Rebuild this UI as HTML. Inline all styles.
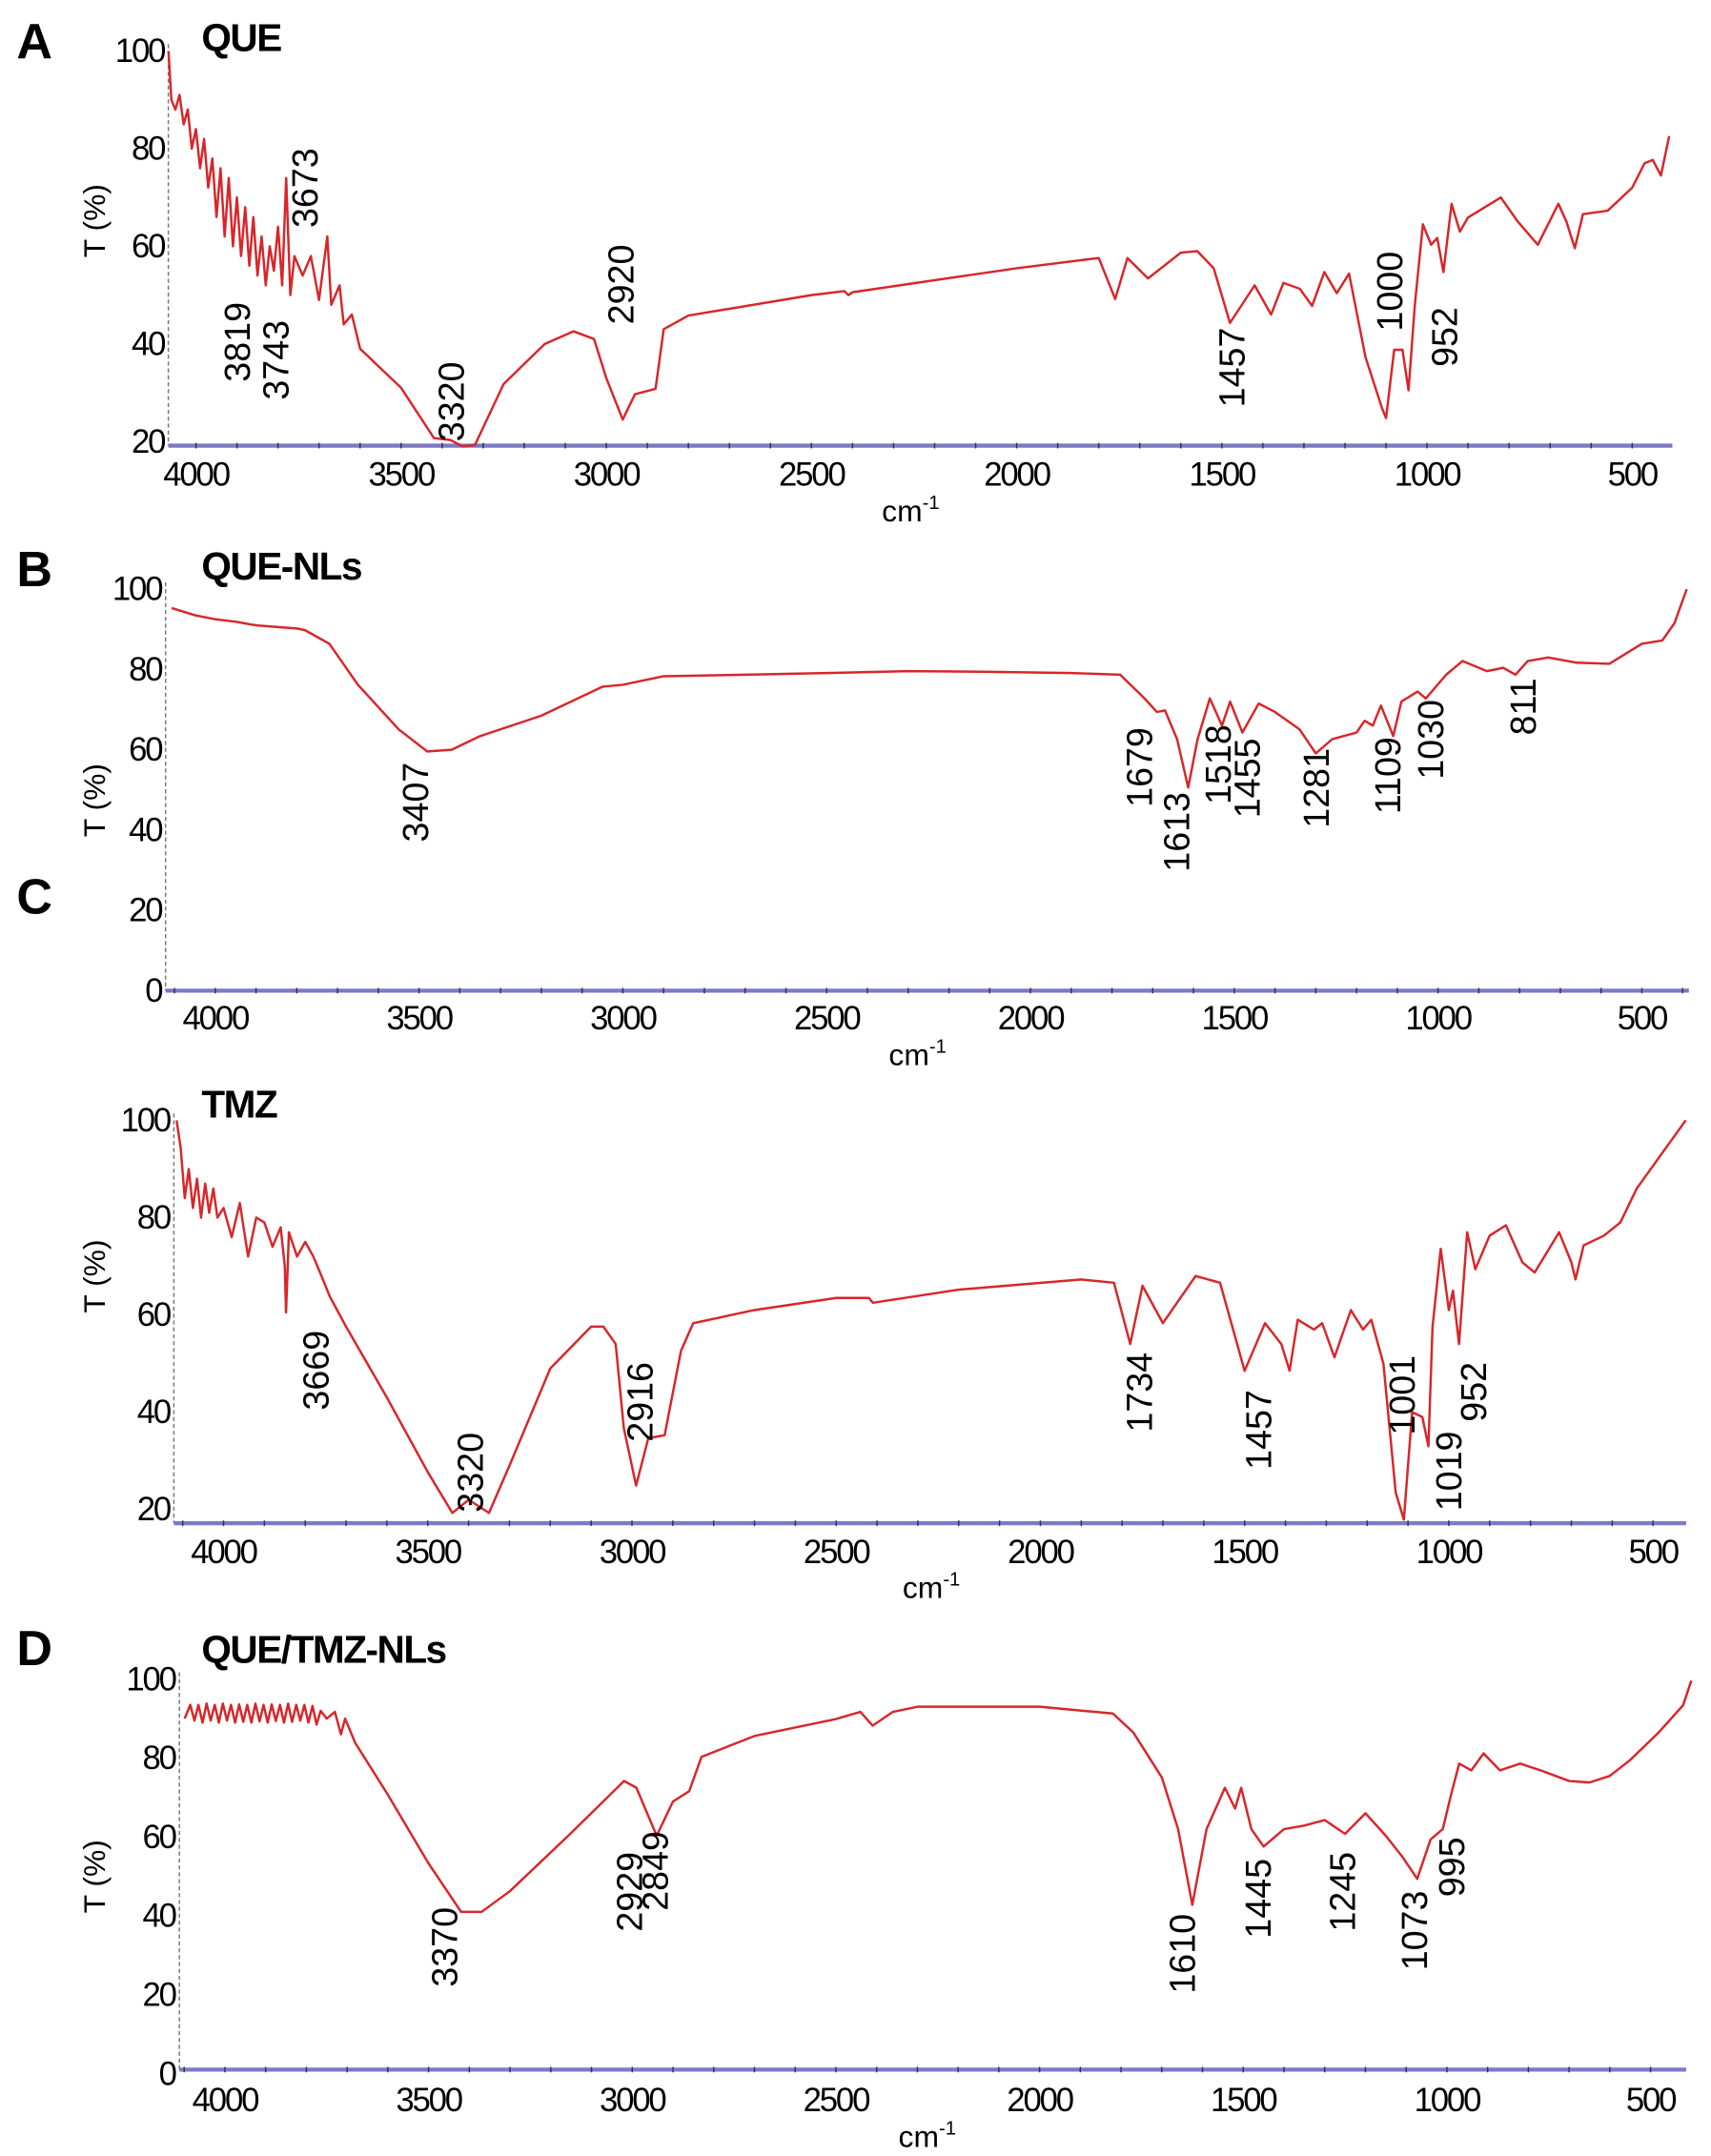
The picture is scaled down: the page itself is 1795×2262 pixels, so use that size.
<!DOCTYPE html>
<html><head><meta charset="utf-8"><style>
html,body{margin:0;padding:0;background:#fff;}
svg{display:block;font-family:"Liberation Sans",sans-serif;}
</style></head><body>
<svg id="fig" width="1795" height="2262" viewBox="0 0 1240 1562.6" xmlns="http://www.w3.org/2000/svg"></svg>
<script>
// ---- data: wavenumbers (cm-1) and transmittance (%) ----
const aWn=[4067,4060,4050,4040,4030,4020,4010,4000,3990,3980,3970,3960,3950,3940,3930,3920,3910,3900,3890,3880,3870,3860,3850,3840,3830,3820,3810,3800,3790,3780,3770,3760,3740,3720,3700,3680,3670,3650,3640,3620,3600,3500,3420,3380,3350,3320,3250,3150,3080,3030,3000,2960,2930,2880,2860,2800,2500,2420,2410,2400,2000,1800,1760,1730,1680,1600,1560,1520,1480,1420,1380,1350,1310,1280,1250,1220,1190,1150,1110,1100,1080,1060,1045,1030,1010,990,975,960,940,920,900,820,780,730,680,660,640,620,560,500,470,450,430,410];
const aT=[100,90,88,91,85,88,80,84,76,82,72,78,66,76,62,74,60,70,58,68,56,66,54,62,52,60,55,64,52,74,50,58,54,58,49,62,48,52,44,46,39,31,20.7,20.3,19,19.3,31.8,40,42.6,41,33,24.5,29.7,30.8,43,45.8,50,50.8,50,50.6,55.5,57.6,49.2,57.6,53.4,58.7,59,55.5,44.3,52,46,52.5,51.3,47.8,54.7,50.4,54.4,37.3,26.9,24.8,38.8,38.8,30.5,47.8,64.5,60.3,61.7,54.7,68.7,63,65.9,70,65.2,60.3,68.7,65,59.6,66.6,67.3,72,77,77.7,74.5,82.6];
const bWn=[4107,4050,4000,3950,3900,3850,3800,3780,3720,3650,3550,3480,3420,3350,3200,3050,3000,2900,2700,2500,2300,2100,1900,1780,1720,1690,1670,1640,1613,1590,1560,1530,1510,1480,1440,1400,1340,1300,1260,1200,1180,1160,1140,1110,1090,1050,1030,980,940,880,840,810,780,730,660,580,500,450,420,390];
const bT=[95.3,93.5,92.5,91.9,91,90.6,90.2,89.8,86.4,76.2,65.1,59.6,60,63.4,68.5,75.7,76.2,78.3,78.7,79.1,79.6,79.4,79.1,78.7,72.8,69.4,69.8,62.6,50.6,62.6,72.8,66,72,64.3,71.5,69.4,65.1,59.1,62.6,64.3,67.2,66,71,63.4,72,74.5,72.8,78.7,82.1,79.6,80.4,78.7,82.1,83,81.7,81.4,86.4,87.2,91.5,100];
const cWn=[4115,4105,4095,4085,4075,4065,4055,4045,4035,4025,4015,4000,3980,3960,3940,3920,3900,3880,3860,3850,3847,3840,3820,3800,3780,3760,3740,3700,3600,3500,3440,3400,3350,3300,3200,3100,3070,3040,3020,2990,2960,2920,2880,2850,2700,2500,2420,2410,2200,1900,1820,1780,1750,1700,1620,1560,1500,1450,1410,1390,1370,1330,1310,1280,1240,1210,1190,1160,1130,1110,1090,1065,1050,1040,1020,1000,990,975,955,935,900,860,820,790,730,700,690,670,620,580,540,480,420];
const cT=[100,94.4,84,90,82,88,80,87,81,86,80,82,76,83,72,80,79,74,78,70,60.5,77,72,75,72,68,63.8,57.6,43,27.7,19.3,22,19.3,29,49,57.6,57.6,54,36.7,24.9,34.6,35.3,52.6,58.3,61,63.5,63.5,62.5,65.2,67.3,66.6,54,66,58.3,68,66.6,48.5,58.3,54,48.5,59,57,58.3,51.3,61,57,59,50,23.5,17.9,40,39,33,57.6,73.6,61,65,54,77,69.4,76.3,78.4,70.8,68.7,77,70.8,67.3,74.3,76.3,79,86,93,100];
const dWn=[4099,4085,4075,4065,4055,4045,4035,4025,4015,4005,3995,3985,3975,3965,3955,3945,3935,3925,3915,3905,3895,3885,3875,3865,3855,3845,3835,3825,3815,3805,3795,3785,3775,3765,3750,3730,3715,3705,3680,3600,3500,3420,3370,3300,3150,3020,2990,2940,2900,2860,2830,2700,2500,2440,2410,2360,2300,2000,1820,1770,1700,1660,1625,1590,1560,1545,1520,1505,1480,1450,1400,1350,1300,1250,1200,1150,1110,1073,1040,1010,990,970,940,910,870,820,770,700,650,600,550,480,420,400];
const dT=[90,93.5,89.5,93.5,89,93.8,89.5,93.5,89,93.8,89.5,93.5,89,93.6,89.2,93.5,89,93.8,89.3,93.5,89,93.6,89.4,93.5,89,93.8,89.2,93.5,89.5,93.5,89,93.2,88.5,92,90,91.7,86,90,83.8,70.7,53.3,41,41,46.3,61,74.2,72.5,60.3,69,71.6,80.3,85.6,89.9,91.7,88.2,91.7,93,93,91.3,86.5,75.1,62,42.8,62,69,72.5,67.2,72.5,62,57.6,62,62.9,64.3,60.8,66,60.3,55.1,49.4,59.4,62,70.7,78.6,76.9,81.2,76.9,78.6,76.9,74.2,73.8,75.5,79.5,86.5,93.4,99.6];
// peak label values and their anchor positions (wavenumber, T at label bottom)
const aLabels=["3819","3743","3673","3320","2920","1457","1000","952"];
const aLabWn=[3899,3805,3734,3378,2964,1475,1091,957];
const aLabT=[32.2,28.5,63.8,20,44,27,42.6,35.3];
const bLabels=["3407","1679","1613","1518","1455","1281","1109","1030","811"];
const bLabWn=[3509,1732,1641,1539,1468,1299,1123,1018,791];
const bLabT=[37,45.7,29.6,46.4,43,40.5,44,52.6,63.6];
const cLabels=["3669","3320","2916","1734","1457","1001","1019","952"];
const cLabWn=[3774,3396,2980,1757,1466,1115,1000,939];
const cLabT=[40.4,19.4,33.9,35.9,28.2,35.3,19.7,38];
const dLabels=["3370","2929","2849","1610","1445","1245","1073","995"];
const dLabWn=[3461,3007,2943,1649,1463,1256,1080,988];
const dLabT=[22,36,41.3,20.3,34.3,36,26.2,44.8];
const xTicks=[4000,3500,3000,2500,2000,1500,1000,500];
const yTicksA=[100,80,60,40,20];
const yTicksB=[100,80,60,40,20,0];

const NS="http://www.w3.org/2000/svg";
const svg=document.getElementById('fig');
function mk(tag,attrs,parent){const e=document.createElementNS(NS,tag);for(const k in attrs)e.setAttribute(k,attrs[k]);(parent||svg).appendChild(e);return e;}

const panels=[
 {id:'a',wn:aWn,t:aT,labs:aLabels,lw:aLabWn,lt:aLabT,yt:yTicksA,x4000:142,px500:148.7,yRef:20,yRefPx:320,pxPer:3.5375,ax0:122,ax1:1212,base:323,letter:'A',ly:42,title:'QUE',ty:37,xlY:352,cmX:660,cmY:378,ttlY:160},
 {id:'b',wn:bWn,t:bT,labs:bLabels,lw:bLabWn,lt:bLabT,yt:yTicksB,x4000:156,px500:147.7,yRef:0,yRefPx:718,pxPer:2.91,ax0:120,ax1:1224,base:718,letter:'B',ly:425,title:'QUE-NLs',ty:420,xlY:746,cmX:665,cmY:772,ttlY:580},
 {id:'c',wn:cWn,t:cT,labs:cLabels,lw:cLabWn,lt:cLabT,yt:yTicksA,x4000:162,px500:148,yRef:20,yRefPx:1094,pxPer:3.525,ax0:126,ax1:1222,base:1104,letter:null,title:'TMZ',ty:810,xlY:1133,cmX:675,cmY:1158,ttlY:925},
 {id:'d',wn:dWn,t:dT,labs:dLabels,lw:dLabWn,lt:dLabT,yt:yTicksB,x4000:163,px500:147.6,yRef:0,yRefPx:1503,pxPer:2.86,ax0:130,ax1:1222,base:1500,letter:'D',ly:1207,title:'QUE/TMZ-NLs',ty:1205,xlY:1530,cmX:672,cmY:1556,ttlY:1360}
];

const lc=mk('text',{x:12,y:662,'font-size':36,'font-weight':'bold'});
lc.textContent='C';



panels.forEach(p=>{
  const g=mk('g',{});
  
  
  const xOf=w=>p.x4000+(4000-w)/500*p.px500;
  const yOf=v=>p.yRefPx-(v-p.yRef)*p.pxPer;
  const topY=yOf(100);
  const ya=mk('line',{x1:p.ax0,y1:topY-5,x2:p.ax0,y2:p.base,stroke:'#777','stroke-width':1,'stroke-dasharray':'3,2'},g);
  
  
  const xa=mk('line',{x1:p.ax0,y1:p.base,x2:p.ax1,y2:p.base,stroke:'#7a7ac8','stroke-width':3},g);
  
  
  for(let w=4100;w>=400;w-=100){
    const x=xOf(w); if(x<p.ax0||x>p.ax1)continue;
    const tk=mk('line',{x1:x,y1:p.base-2,x2:x,y2:p.base+2,stroke:'#334','stroke-width':1},g);
    
    
  }
  xTicks.forEach(w=>{
    const t=mk('text',{x:xOf(w),y:p.xlY,'font-size':24,'text-anchor':'middle','letter-spacing':'-1.5'},g);
    t.textContent=w;
    
    
  });
  p.yt.forEach(v=>{
    const t=mk('text',{x:p.ax0-3,y:yOf(v)+8,'font-size':24,'text-anchor':'end','letter-spacing':'-1.5'},g);
    t.textContent=v;
    
    
  });
  const yt=mk('text',{x:0,y:0,'font-size':22,'text-anchor':'middle',transform:`translate(76,${p.ttlY}) rotate(-90)`},g);
  yt.textContent='T (%)';
  
  
  const cm=mk('text',{x:p.cmX,y:p.cmY,'font-size':22,'text-anchor':'middle'},g);
  cm.innerHTML='cm<tspan dy="-9" font-size="14">-1</tspan>';
  
  
  if(p.letter){
    const L=mk('text',{x:12,y:p.ly,'font-size':36,'font-weight':'bold'},g);
    L.textContent=p.letter;
    
    
  }
  const T=mk('text',{x:146,y:p.ty,'font-size':28,'font-weight':'bold','letter-spacing':'-1'},g);
  T.textContent=p.title;
  
  
  let d='';
  p.wn.forEach((w,i)=>{d+=(i?'L':'M')+xOf(w).toFixed(1)+','+yOf(p.t[i]).toFixed(1);});
  const path=mk('path',{d:d,fill:'none',stroke:'#d8262a','stroke-width':1.7,'stroke-linejoin':'round'},g);
  
  
  p.labs.forEach((s,i)=>{
    const x=xOf(p.lw[i]), y=yOf(p.lt[i]);
    const t=mk('text',{x:0,y:0,'font-size':26,transform:`translate(${(x+9).toFixed(1)},${y.toFixed(1)}) rotate(-90)`},g);
    t.textContent=s;
    
    
  });
});
</script>
</body></html>
